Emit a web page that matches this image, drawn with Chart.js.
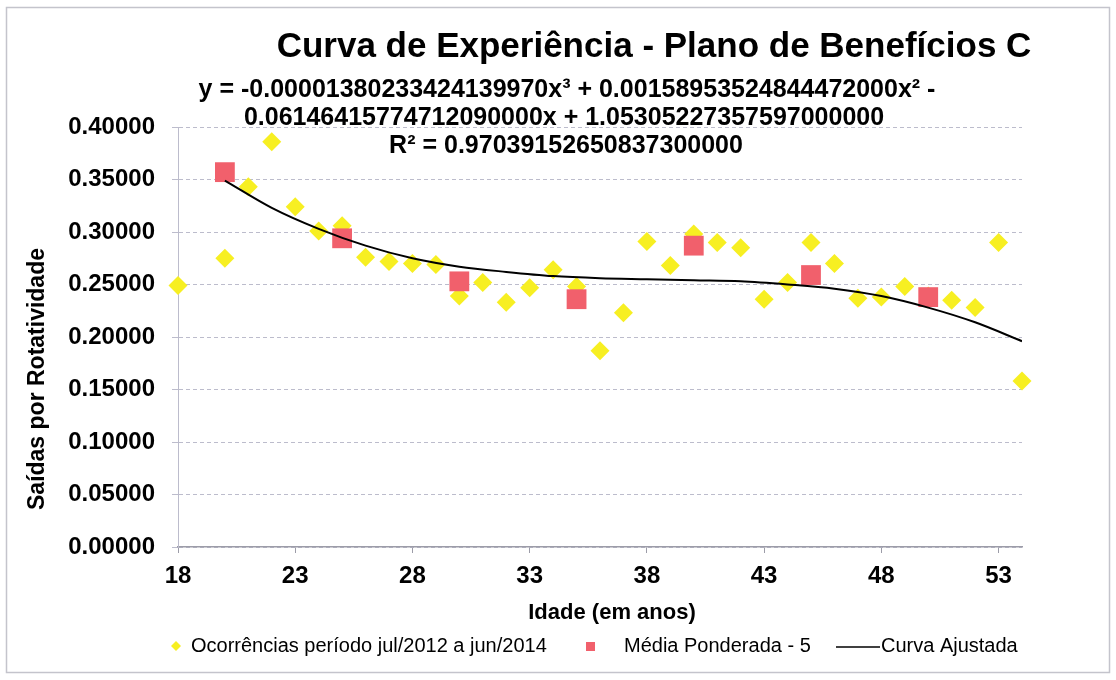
<!DOCTYPE html>
<html>
<head>
<meta charset="utf-8">
<script src="https://cdn.jsdelivr.net/npm/chart.js@4"></script>
<style>
	html, body { margin: 0; padding: 0; background: #fff; }
	canvas { display: block; }
</style>
</head>
<body>
<canvas id="chartC" width="1116" height="680"></canvas>
<script>
'use strict'

// dados
const idades = [18, 20, 21, 22, 23, 24, 25, 26, 27, 28, 29, 30, 31, 32, 33, 34, 35, 36, 37, 38, 39, 40, 41, 42, 43, 44, 45, 46, 47, 48, 49, 50, 51, 52, 53, 54];
const ocorrencias = [0.249, 0.275, 0.343, 0.386, 0.324, 0.301, 0.306, 0.276, 0.272, 0.270, 0.269, 0.239, 0.252, 0.233, 0.247, 0.264, 0.248, 0.187, 0.223, 0.291, 0.268, 0.298, 0.290, 0.285, 0.236, 0.252, 0.290, 0.270, 0.237, 0.238, 0.248, 0.239, 0.235, 0.228, 0.290, 0.158];

const idadesMedia = [20, 25, 30, 35, 40, 45, 50];
const mediaPonderada = [0.357, 0.294, 0.253, 0.236, 0.287, 0.259, 0.238];

const idadesCurva = [20, 22, 24, 26, 28, 30, 32, 34, 36, 38, 40, 42, 44, 46, 48, 50, 52, 54];
const curvaAjustada = [0.349, 0.323, 0.303, 0.287, 0.275, 0.267, 0.262, 0.258, 0.256, 0.255, 0.254, 0.253, 0.250, 0.246, 0.239, 0.228, 0.214, 0.196];

const xTicks = [18, 23, 28, 33, 38, 43, 48, 53];

const titulo = 'Curva de Experiência - Plano de Benefícios C';
const equacao = [
	'y = -0.00001380233424139970x³ + 0.00158953524844472000x² -',
	'0.06146415774712090000x + 1.05305227357597000000',
	'R² = 0.97039152650837300000',
];
const tituloX = 'Idade (em anos)';
const tituloY = 'Saídas por Rotatividade';
const legendas = ['Ocorrências período jul/2012 a jun/2014', 'Média Ponderada - 5', 'Curva Ajustada'];

const FONT = "'Liberation Sans', Arial, sans-serif";
const colors = {
	yellow: '#F7EF22',
	red: '#F1606C',
	grid: '#BCBCCC',
	axis: '#9C9CA8',
	frame: '#C4C4CC',
};

const pts = (xs, ys) => xs.map((x, i) => ({ x: x, y: ys[i] }));

function texto(ctx, str, x, y, font, align) {
	ctx.font = font;
	ctx.textAlign = align || 'center';
	ctx.textBaseline = 'middle';
	ctx.fillStyle = '#000';
	ctx.fillText(str, x, y);
}

const decoracao = {
	id: 'decoracao',
	beforeDraw(chart) {
		const ctx = chart.ctx;
		ctx.save();
		ctx.fillStyle = '#fff';
		ctx.fillRect(0, 0, chart.width, chart.height);
		ctx.strokeStyle = colors.frame;
		ctx.lineWidth = 1.5;
		ctx.strokeRect(6.5, 7.5, 1103, 665);
		ctx.restore();
	},
	afterDraw(chart) {
		const ctx = chart.ctx;
		ctx.save();
		texto(ctx, titulo, 654, 47, 'bold 35px ' + FONT);
		texto(ctx, equacao[0], 567, 90, 'bold 25px ' + FONT);
		texto(ctx, equacao[1], 564, 118, 'bold 25px ' + FONT);
		texto(ctx, equacao[2], 566, 146, 'bold 25px ' + FONT);
		texto(ctx, tituloX, 612, 613, 'bold 22px ' + FONT);

		ctx.save();
		ctx.translate(38, 379);
		ctx.rotate(-Math.PI / 2);
		texto(ctx, tituloY, 0, 0, 'bold 23px ' + FONT);
		ctx.restore();

		// legenda
		const ly = 646;
		ctx.fillStyle = colors.yellow;
		ctx.beginPath();
		ctx.moveTo(176, ly - 5);
		ctx.lineTo(181, ly);
		ctx.lineTo(176, ly + 5);
		ctx.lineTo(171, ly);
		ctx.closePath();
		ctx.fill();
		texto(ctx, legendas[0], 191, ly, '20px ' + FONT, 'left');

		ctx.fillStyle = colors.red;
		ctx.fillRect(586, ly - 4, 9, 9);
		texto(ctx, legendas[1], 624, ly, '20px ' + FONT, 'left');

		ctx.strokeStyle = '#000';
		ctx.lineWidth = 1.5;
		ctx.beginPath();
		ctx.moveTo(836, ly + 1);
		ctx.lineTo(880, ly + 1);
		ctx.stroke();
		texto(ctx, legendas[2], 881, ly, '20px ' + FONT, 'left');
		ctx.restore();
	},
};

let ctx = document.getElementById('chartC').getContext('2d');

let chart = new Chart(ctx, {
	type: 'scatter',
	data: {
		datasets: [
			{
				label: legendas[2],
				type: 'line',
				data: pts(idadesCurva, curvaAjustada),
				borderColor: '#000',
				borderWidth: 2,
				pointRadius: 0,
				cubicInterpolationMode: 'monotone',
				fill: false,
				order: 0,
			},
			{
				label: legendas[1],
				data: pts(idadesMedia, mediaPonderada),
				pointStyle: 'rect',
				pointRadius: 14,
				backgroundColor: colors.red,
				borderWidth: 0,
				clip: false,
				order: 1,
			},
			{
				label: legendas[0],
				data: pts(idades, ocorrencias),
				pointStyle: 'rectRot',
				pointRadius: 9.5,
				backgroundColor: colors.yellow,
				borderWidth: 0,
				clip: false,
				order: 2,
			},
		],
	},
	options: {
		responsive: false,
		animation: false,
		layout: {
			padding: { left: 0, right: 94, top: 127, bottom: 0 },
		},
		plugins: {
			legend: { display: false },
			tooltip: { enabled: false },
			title: { display: false },
		},
		scales: {
			x: {
				type: 'linear',
				min: 18,
				max: 54,
				afterBuildTicks: s => { s.ticks = xTicks.map(v => ({ value: v })) },
				afterFit: s => { s.height = 133 },
				grid: {
					drawOnChartArea: false,
					tickLength: 6,
					color: colors.axis,
				},
				border: { color: colors.axis, width: 1.5 },
				ticks: {
					padding: 9,
					color: '#000',
					maxRotation: 0,
					font: { family: FONT, size: 24, weight: 'bold' },
				},
			},
			y: {
				min: 0,
				max: 0.4,
				afterFit: s => { s.width = 178 },
				grid: {
					tickLength: 6,
					color: colors.grid,
					borderDash: [6, 3],
				},
				border: { color: colors.grid, dash: [4, 3] },
				ticks: {
					stepSize: 0.05,
					padding: 17,
					color: '#000',
					font: { family: FONT, size: 24, weight: 'bold' },
					callback: v => v.toFixed(5),
				},
			},
		},
	},
	plugins: [decoracao],
});
</script>
</body>
</html>
